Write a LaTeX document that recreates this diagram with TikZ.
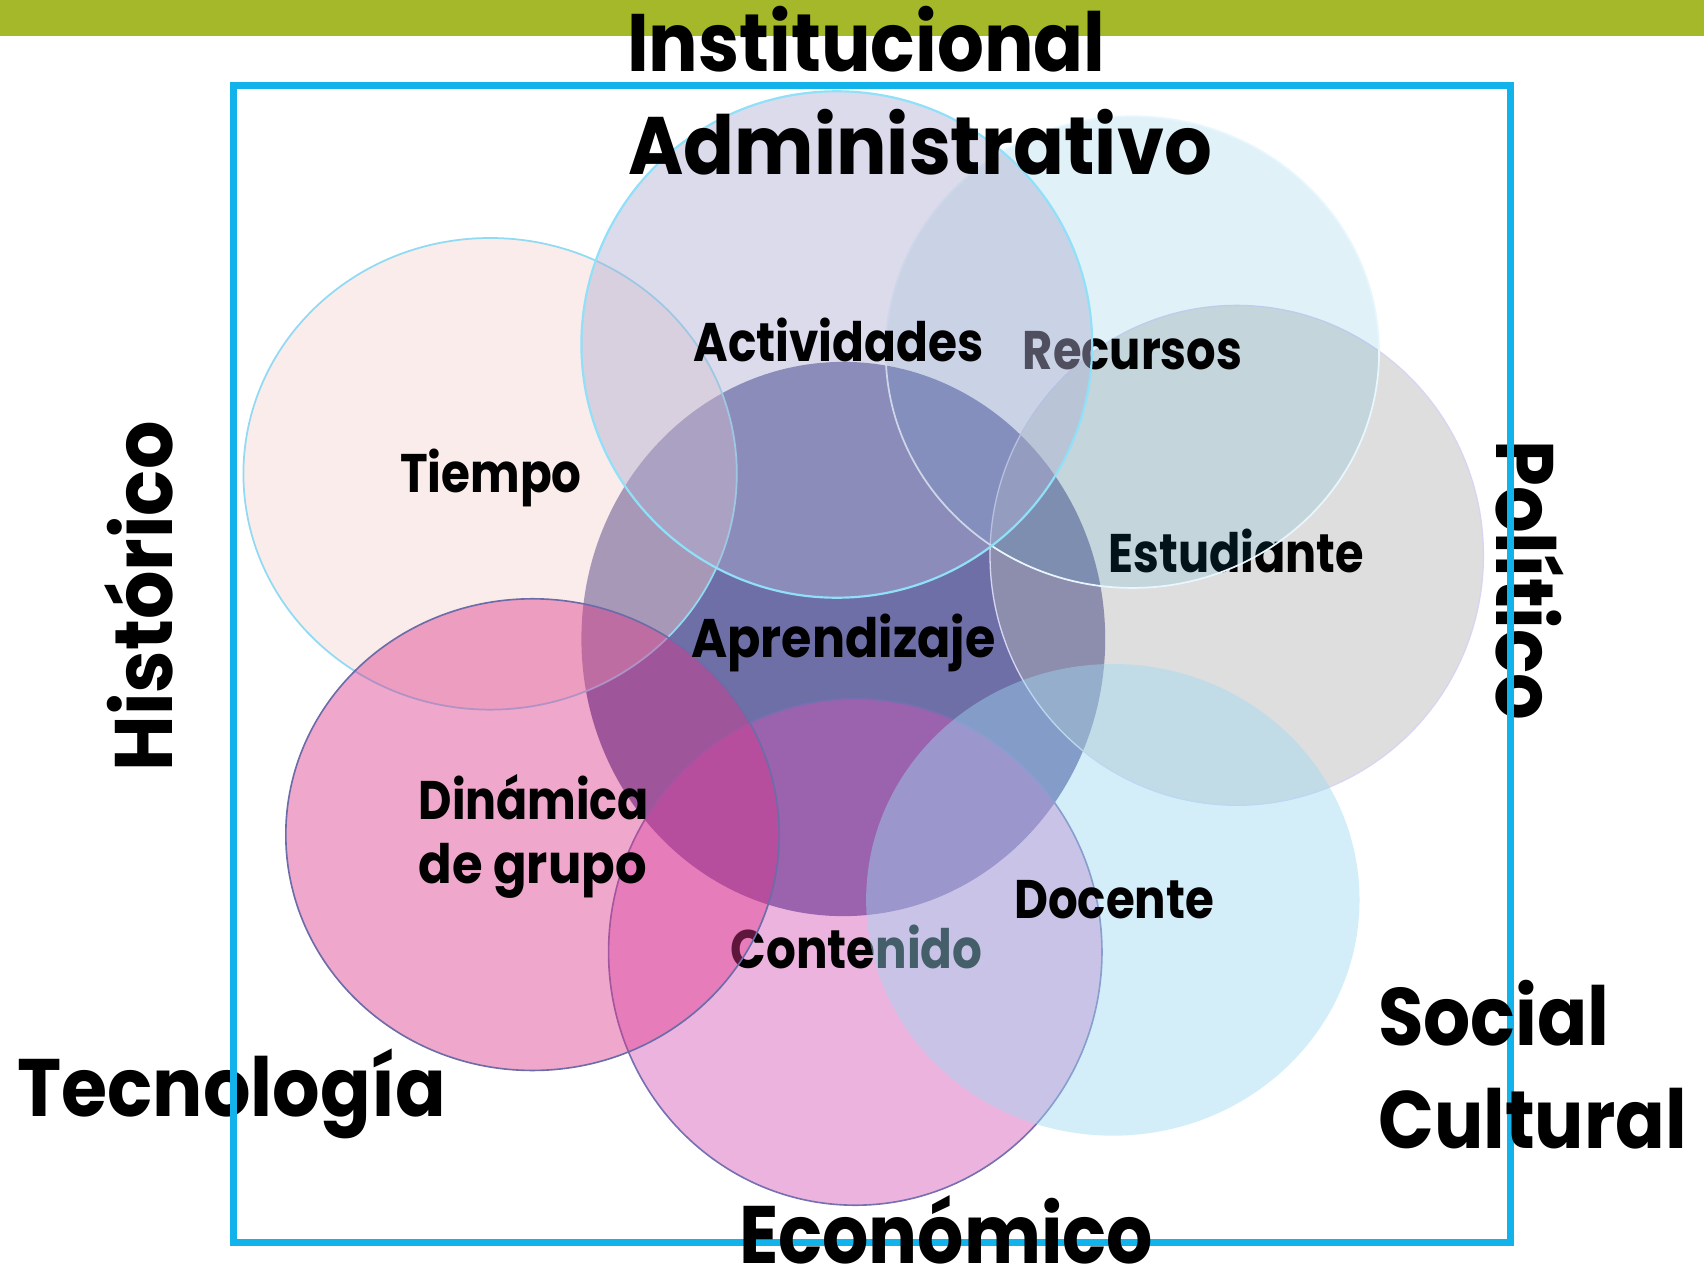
\documentclass[tikz,border=0pt]{standalone}
\usepackage{fontspec}
\usepackage{graphicx}
\setmainfont{Poppins}
\usetikzlibrary{shapes.geometric}
\definecolor{barG}{RGB}{165,184,41}
\definecolor{frameB}{RGB}{18,178,234}
\definecolor{aprC}{RGB}{111,111,168}
\definecolor{tieC}{RGB}{245,210,205}
\definecolor{tieL}{RGB}{144,218,243}
\definecolor{estC}{RGB}{180,180,180}
\definecolor{estL}{RGB}{214,214,242}
\definecolor{recC}{RGB}{23,154,200}
\definecolor{recL}{RGB}{232,247,253}
\definecolor{actC}{RGB}{176,176,211}
\definecolor{actL}{RGB}{143,224,248}
\definecolor{conC}{RGB}{214,81,181}
\definecolor{conL}{RGB}{118,112,178}
\definecolor{dinC}{RGB}{221,53,137}
\definecolor{dinL}{RGB}{108,108,168}
\definecolor{docC}{RGB}{157,218,243}
\newsavebox\fitbox
\newcommand\fitw[2]{\sbox\fitbox{#2}\pgfmathsetmacro\fsc{#1/\the\wd\fitbox}\scalebox{\fsc}[1]{\usebox\fitbox}}
\begin{document}
\begin{tikzpicture}[x=1pt,y=1pt,
  blob/.style={ellipse, inner sep=0pt, outer sep=0pt},
  lab/.style={inner sep=0pt, anchor=base west, font=\fontsize{50}{55}\selectfont\bfseries},
  big/.style={inner sep=0pt, anchor=base west, font=\fontsize{75}{80}\selectfont\bfseries}]
\useasboundingbox (0,0) rectangle (1568,-1173);
\fill[white] (0,0) rectangle (1568,-1173);
\fill[barG] (0,0) rectangle (1568,-33.5);

% Aprendizaje (bottom layer)
\node[blob, fill=aprC, minimum width=482pt, minimum height=510pt] (apr) at (776,-588) {};

% Tiempo
\node[blob, fill=tieC, fill opacity=0.42, draw=tieL, line width=1.6pt, minimum width=454pt, minimum height=434pt] (tie) at (451,-436) {};
\node[lab] (tieT) at (368,-453) {\fitw{167}{Tiempo}};

% Estudiante
\node[blob, fill=estC, fill opacity=0.44, draw=estL, line width=1.2pt, minimum width=454pt, minimum height=460pt] (est) at (1138,-511) {};
\node[lab] (estT) at (1020,-527) {\fitw{235}{Estudiante}};

% Recursos
\node[blob, fill=recC, fill opacity=0.13, draw=recL, line width=1.6pt, minimum width=454pt, minimum height=434pt] (rec) at (1042,-324) {};
\node[lab] (recT) at (941,-340) {\fitw{202}{Recursos}};

% Actividades
\node[blob, fill=actC, fill opacity=0.45, draw=actL, line width=2pt, minimum width=470pt, minimum height=466pt] (act) at (770,-317) {};
\node[lab] (actT) at (638,-333) {\fitw{267}{Actividades}};

% Contenido
\node[blob, fill=conC, fill opacity=0.43, draw=conL, line width=1.5pt, minimum width=454pt, minimum height=466pt] (con) at (787,-876) {};
\node[lab] (conT) at (672,-891) {\fitw{232}{Contenido}};

% Dinamica de grupo
\node[blob, fill=dinC, fill opacity=0.43, draw=dinL, line width=1.5pt, minimum width=454pt, minimum height=434pt] (din) at (490,-768) {};
\node[lab] (dinT1) at (385,-754) {\fitw{212}{Dinámica}};
\node[lab] (dinT2) at (385,-813) {\fitw{210}{de grupo}};

% Docente
\node[blob, fill=docC, fill opacity=0.44, minimum width=454pt, minimum height=434pt] (doc) at (1024,-828) {};
\node[lab] (docT) at (933,-845) {\fitw{184}{Docente}};

\node[lab] (aprT) at (636,-605) {\fitw{280}{Aprendizaje}};

% side texts under the frame
\node[big] (tecT) at (16,-1027) {\fitw{394}{Tecnología}};
\node[big, rotate=-90] (polT) at (1377,-405) {\fitw{258}{Político}};

% frame
\draw[frameB, line width=6.5pt] (215,-79) rectangle (1390,-1143);

% side texts over the frame
\node[big] (insT) at (577,-66) {\fitw{440}{Institucional}};
\node[big] (admT) at (578,-161) {\fitw{537}{Administrativo}};
\node[big, rotate=90] (hisT) at (159,-710) {\fitw{322}{Histórico}};
\node[big] (socT) at (1268,-962) {\fitw{213}{Social}};
\node[big] (culT) at (1268,-1057) {\fitw{284}{Cultural}};
\node[big] (ecoT) at (680,-1163) {\raisebox{0pt}[\height][0pt]{\fitw{381}{Económico}}};
\end{tikzpicture}
\end{document}
